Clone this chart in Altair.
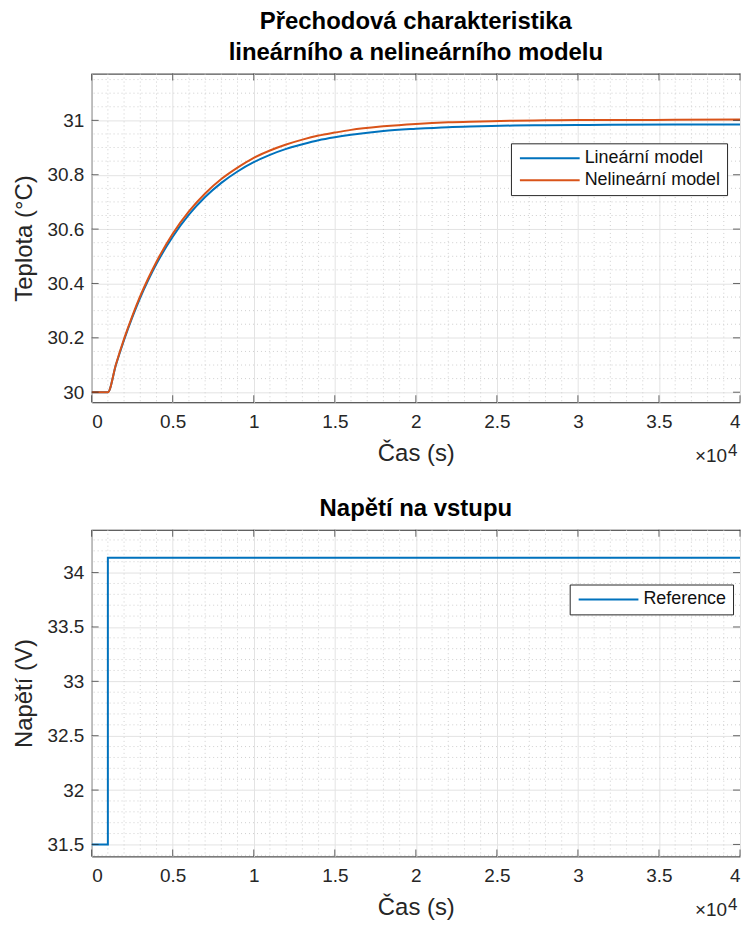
import altair as alt
import pandas as pd

# ---- data ----
time_s = [0, 1000, 1500, 2000, 2500, 3000, 3500, 4000, 5000, 6000, 7000, 8000, 9000,
          10000, 11000, 12000, 13000, 14000, 15000, 16000, 18000, 20000, 22000, 24000,
          26000, 28000, 30000, 32000, 36000, 40000]
linear = [30, 30, 30.101, 30.192, 30.274, 30.348, 30.413, 30.472, 30.572, 30.653, 30.718,
          30.770, 30.812, 30.846, 30.873, 30.895, 30.912, 30.927, 30.938, 30.947, 30.961,
          30.969, 30.975, 30.978, 30.981, 30.982, 30.983, 30.984, 30.985, 30.985]
nonlinear = [30, 30, 30.103, 30.196, 30.279, 30.354, 30.420, 30.480, 30.583, 30.665, 30.731,
             30.784, 30.826, 30.862, 30.889, 30.911, 30.929, 30.944, 30.955, 30.965, 30.978,
             30.987, 30.993, 30.996, 30.999, 31.000, 31.001, 31.001, 31.002, 31.003]
ref_time = [0, 1000, 40000]
ref_volt = [31.5, 34.137, 34.137]

series_names = ["Lineární model", "Nelineární model"]
ref_name = ["Reference"]

x_ticks = [0, 5000, 10000, 15000, 20000, 25000, 30000, 35000, 40000]
x_minor = [t for t in range(0, 40001, 1000) if t % 5000 != 0]
top_ticks = [30, 30.2, 30.4, 30.6, 30.8, 31]
top_minor = [30.05, 30.1, 30.15, 30.25, 30.3, 30.35, 30.45, 30.5, 30.55, 30.65, 30.7,
             30.75, 30.85, 30.9, 30.95, 31.05, 31.1, 31.15]
bot_ticks = [31.5, 32, 32.5, 33, 33.5, 34]
bot_minor = [31.4, 31.6, 31.7, 31.8, 31.9, 32.1, 32.2, 32.3, 32.4, 32.6, 32.7, 32.8, 32.9,
             33.1, 33.2, 33.3, 33.4, 33.6, 33.7, 33.8, 33.9, 34.1, 34.2, 34.3]

FONT = "Liberation Sans"
AX = "#262626"
GRID = "#e3e3e3"
MINOR = "#cfcfcf"
BLUE = "#0072BD"
ORANGE = "#D95319"
W = 651
TICK = 7

x_scale = alt.Scale(domain=[0, 40000], nice=False, zero=False)


def x_enc():
    return alt.X("t:Q", scale=x_scale,
                 axis=alt.Axis(values=x_ticks, labelExpr="format(datum.value/10000, '~g')",
                               title="Čas (s)", grid=True, gridColor=GRID, ticks=False,
                               domain=False, labelPadding=10, titlePadding=10))


def y_enc(domain, ticks, title):
    return alt.Y("v:Q", scale=alt.Scale(domain=domain, nice=False, zero=False),
                 axis=alt.Axis(values=ticks, format="~g", title=title, grid=True,
                               gridColor=GRID, ticks=False, domain=False,
                               labelPadding=8, titlePadding=10))


def panel(df, ydom, yticks, yminor, ytitle, color_dom, color_rng, lx, ly, h, title, interp):
    xe = x_enc()
    ye = y_enc(ydom, yticks, ytitle)
    vmin = alt.Chart(pd.DataFrame({"t": x_minor})).mark_rule(
        color=MINOR, strokeDash=[1, 3], strokeWidth=1).encode(x=xe)
    hmin = alt.Chart(pd.DataFrame({"v": yminor})).mark_rule(
        color=MINOR, strokeDash=[1, 3], strokeWidth=1, clip=True).encode(y=ye)
    lines = alt.Chart(df).mark_line(strokeWidth=2, clip=True, interpolate=interp).encode(
        x=xe, y=ye,
        color=alt.Color("s:N", scale=alt.Scale(domain=color_dom, range=color_rng),
                        legend=alt.Legend(title=None, orient="none", legendX=lx, legendY=ly,
                                          symbolType="M-1,0H9", symbolSize=144,
                                          symbolStrokeWidth=2, labelFontSize=18,
                                          labelFont=FONT, labelColor="#111111",
                                          strokeColor=AX, fillColor="white",
                                          padding=6, rowPadding=4, labelOffset=50,
                                          cornerRadius=0)))
    # inward tick marks on all four sides of the box
    xt = alt.Chart(pd.DataFrame({"t": x_ticks}))
    yt = alt.Chart(pd.DataFrame({"v": yticks}))
    tb = xt.mark_tick(color=AX, size=TICK, thickness=1).encode(x=xe, y=alt.value(h - TICK / 2))
    tt = xt.mark_tick(color=AX, size=TICK, thickness=1).encode(x=xe, y=alt.value(TICK / 2))
    tl = yt.mark_tick(color=AX, size=TICK, thickness=1).encode(y=ye, x=alt.value(TICK / 2))
    tr = yt.mark_tick(color=AX, size=TICK, thickness=1).encode(y=ye, x=alt.value(W - TICK / 2))
    base = alt.Chart(pd.DataFrame({"a": ["×10"], "b": ["4"]}))
    expo1 = base.mark_text(align="right", baseline="alphabetic", fontSize=19, font=FONT,
                           color=AX).encode(text="a:N", x=alt.value(W - 13),
                                            y=alt.value(h + 60))
    expo2 = base.mark_text(align="left", baseline="alphabetic", fontSize=17, font=FONT,
                           color=AX).encode(text="b:N", x=alt.value(W - 12),
                                            y=alt.value(h + 54))
    return alt.layer(vmin, hmin, lines, tb, tt, tl, tr, expo1, expo2).properties(
        width=W, height=h, title=title)


top_df = pd.DataFrame({
    "t": time_s + time_s,
    "v": linear + nonlinear,
    "s": [series_names[0]] * len(time_s) + [series_names[1]] * len(time_s),
})
bot_df = pd.DataFrame({"t": ref_time, "v": ref_volt, "s": ref_name * len(ref_time)})

top = panel(top_df, [29.963, 31.172], top_ticks, top_minor, "Teplota (°C)",
            series_names, [BLUE, ORANGE], 421, 70, 330,
            alt.Title(["Přechodová charakteristika", "lineárního a nelineárního modelu"],
                      lineHeight=31, offset=8), "monotone")
bot = panel(bot_df, [31.39, 34.394], bot_ticks, bot_minor, "Napětí (V)",
            ref_name, [BLUE], 480, 55, 328,
            alt.Title("Napětí na vstupu", offset=8), "step-after")

chart = alt.vconcat(top, bot, spacing=30).resolve_scale(color="independent").properties(
    padding={"left": 4, "top": 0, "right": 0, "bottom": 0}
).configure_view(stroke=AX, strokeWidth=1).configure_axis(
    labelFont=FONT, titleFont=FONT, labelColor=AX, titleColor=AX, labelFontSize=19,
    titleFontSize=24, titleFontWeight="normal"
).configure_title(font=FONT, fontSize=24, fontWeight="bold", color="black", anchor="middle")

chart.save("out.html", embed_options={"renderer": "svg", "actions": False})
